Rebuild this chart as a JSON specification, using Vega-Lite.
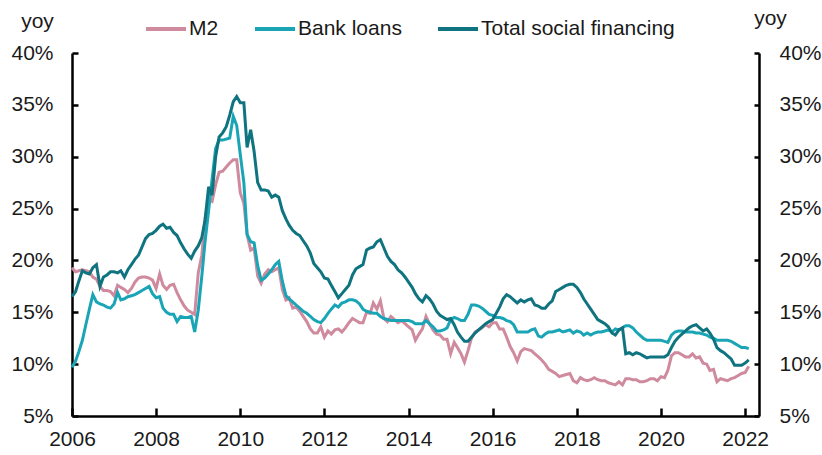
{
  "$schema": "https://vega.github.io/schema/vega-lite/v6.json",
  "width": 687,
  "height": 363,
  "autosize": "none",
  "padding": {"left": 72, "top": 53, "right": 63, "bottom": 39},
  "background": "white",
  "config": {
    "font": "Liberation Sans",
    "view": {"stroke": null},
    "axis": {
      "grid": false,
      "domainColor": "#000000",
      "domainWidth": 2.5,
      "tickColor": "#000000",
      "tickWidth": 2.5,
      "labelColor": "#1a1a1a",
      "labelFontSize": 21,
      "labelFont": "Liberation Sans",
      "titleFont": "Liberation Sans",
      "titleFontSize": 21,
      "titleFontWeight": "normal",
      "titleColor": "#1a1a1a"
    },
    "legend": {"labelFont": "Liberation Sans"}
  },
  "data": {
    "values": [
      {"date":"2006-01","M2":19.3,"Bank loans":9.7,"Total social financing":16.5},
      {"date":"2006-02","M2":18.9,"Bank loans":10.3,"Total social financing":17.0},
      {"date":"2006-03","M2":19.0,"Bank loans":11.2,"Total social financing":18.0},
      {"date":"2006-04","M2":19.1,"Bank loans":12.3,"Total social financing":19.0},
      {"date":"2006-05","M2":19.0,"Bank loans":13.8,"Total social financing":18.8},
      {"date":"2006-06","M2":18.9,"Bank loans":15.3,"Total social financing":18.7},
      {"date":"2006-07","M2":18.4,"Bank loans":16.7,"Total social financing":19.3},
      {"date":"2006-08","M2":18.2,"Bank loans":16.0,"Total social financing":19.6},
      {"date":"2006-09","M2":17.5,"Bank loans":15.8,"Total social financing":17.5},
      {"date":"2006-10","M2":17.1,"Bank loans":15.7,"Total social financing":18.4},
      {"date":"2006-11","M2":17.1,"Bank loans":15.5,"Total social financing":18.6},
      {"date":"2006-12","M2":17.0,"Bank loans":15.4,"Total social financing":18.9},
      {"date":"2007-01","M2":16.6,"Bank loans":15.8,"Total social financing":18.9},
      {"date":"2007-02","M2":17.6,"Bank loans":16.9,"Total social financing":18.8},
      {"date":"2007-03","M2":17.4,"Bank loans":16.2,"Total social financing":19.0},
      {"date":"2007-04","M2":17.2,"Bank loans":16.3,"Total social financing":18.4},
      {"date":"2007-05","M2":16.9,"Bank loans":16.5,"Total social financing":19.1},
      {"date":"2007-06","M2":17.3,"Bank loans":16.6,"Total social financing":19.6},
      {"date":"2007-07","M2":17.9,"Bank loans":16.7,"Total social financing":20.1},
      {"date":"2007-08","M2":18.3,"Bank loans":16.9,"Total social financing":20.5},
      {"date":"2007-09","M2":18.4,"Bank loans":17.1,"Total social financing":21.3},
      {"date":"2007-10","M2":18.4,"Bank loans":17.3,"Total social financing":22.1},
      {"date":"2007-11","M2":18.3,"Bank loans":17.5,"Total social financing":22.5},
      {"date":"2007-12","M2":18.1,"Bank loans":16.8,"Total social financing":22.6},
      {"date":"2008-01","M2":17.3,"Bank loans":16.4,"Total social financing":22.9},
      {"date":"2008-02","M2":18.7,"Bank loans":16.5,"Total social financing":23.3},
      {"date":"2008-03","M2":17.6,"Bank loans":15.4,"Total social financing":23.5},
      {"date":"2008-04","M2":17.2,"Bank loans":15.0,"Total social financing":23.1},
      {"date":"2008-05","M2":17.6,"Bank loans":14.8,"Total social financing":23.2},
      {"date":"2008-06","M2":17.7,"Bank loans":14.8,"Total social financing":22.7},
      {"date":"2008-07","M2":16.9,"Bank loans":14.1,"Total social financing":22.4},
      {"date":"2008-08","M2":16.2,"Bank loans":14.6,"Total social financing":21.7},
      {"date":"2008-09","M2":15.6,"Bank loans":14.5,"Total social financing":21.1},
      {"date":"2008-10","M2":15.2,"Bank loans":14.5,"Total social financing":20.6},
      {"date":"2008-11","M2":15.0,"Bank loans":14.6,"Total social financing":20.2},
      {"date":"2008-12","M2":14.8,"Bank loans":13.1,"Total social financing":20.9},
      {"date":"2009-01","M2":18.8,"Bank loans":15.2,"Total social financing":21.4},
      {"date":"2009-02","M2":20.5,"Bank loans":18.5,"Total social financing":22.2},
      {"date":"2009-03","M2":24.0,"Bank loans":21.8,"Total social financing":23.9},
      {"date":"2009-04","M2":25.9,"Bank loans":24.8,"Total social financing":27.1},
      {"date":"2009-05","M2":25.7,"Bank loans":27.8,"Total social financing":26.3},
      {"date":"2009-06","M2":27.3,"Bank loans":30.8,"Total social financing":30.0},
      {"date":"2009-07","M2":28.5,"Bank loans":31.6,"Total social financing":31.9},
      {"date":"2009-08","M2":28.6,"Bank loans":31.6,"Total social financing":32.3},
      {"date":"2009-09","M2":29.0,"Bank loans":31.7,"Total social financing":32.9},
      {"date":"2009-10","M2":29.4,"Bank loans":31.8,"Total social financing":34.0},
      {"date":"2009-11","M2":29.7,"Bank loans":33.9,"Total social financing":35.3},
      {"date":"2009-12","M2":29.7,"Bank loans":33.0,"Total social financing":35.8},
      {"date":"2010-01","M2":26.5,"Bank loans":30.2,"Total social financing":35.2},
      {"date":"2010-02","M2":25.5,"Bank loans":27.5,"Total social financing":35.2},
      {"date":"2010-03","M2":22.5,"Bank loans":22.5,"Total social financing":30.9},
      {"date":"2010-04","M2":21.0,"Bank loans":21.8,"Total social financing":32.6},
      {"date":"2010-05","M2":21.2,"Bank loans":21.7,"Total social financing":30.5},
      {"date":"2010-06","M2":18.5,"Bank loans":19.5,"Total social financing":27.5},
      {"date":"2010-07","M2":17.8,"Bank loans":18.1,"Total social financing":26.8},
      {"date":"2010-08","M2":18.7,"Bank loans":18.3,"Total social financing":26.8},
      {"date":"2010-09","M2":19.1,"Bank loans":18.7,"Total social financing":26.7},
      {"date":"2010-10","M2":18.9,"Bank loans":19.1,"Total social financing":26.1},
      {"date":"2010-11","M2":19.1,"Bank loans":19.6,"Total social financing":26.3},
      {"date":"2010-12","M2":19.3,"Bank loans":19.9,"Total social financing":26.1},
      {"date":"2011-01","M2":17.2,"Bank loans":18.0,"Total social financing":24.8},
      {"date":"2011-02","M2":16.2,"Bank loans":16.6,"Total social financing":24.0},
      {"date":"2011-03","M2":16.4,"Bank loans":16.3,"Total social financing":23.4},
      {"date":"2011-04","M2":15.4,"Bank loans":16.0,"Total social financing":22.9},
      {"date":"2011-05","M2":15.5,"Bank loans":15.7,"Total social financing":22.6},
      {"date":"2011-06","M2":15.1,"Bank loans":15.4,"Total social financing":22.4},
      {"date":"2011-07","M2":14.6,"Bank loans":15.1,"Total social financing":21.9},
      {"date":"2011-08","M2":14.1,"Bank loans":14.9,"Total social financing":21.4},
      {"date":"2011-09","M2":13.4,"Bank loans":14.6,"Total social financing":20.7},
      {"date":"2011-10","M2":13.0,"Bank loans":14.3,"Total social financing":19.7},
      {"date":"2011-11","M2":13.0,"Bank loans":14.1,"Total social financing":19.3},
      {"date":"2011-12","M2":13.6,"Bank loans":14.0,"Total social financing":18.9},
      {"date":"2012-01","M2":12.6,"Bank loans":14.4,"Total social financing":18.3},
      {"date":"2012-02","M2":13.2,"Bank loans":14.9,"Total social financing":18.2},
      {"date":"2012-03","M2":12.9,"Bank loans":15.3,"Total social financing":17.6},
      {"date":"2012-04","M2":13.3,"Bank loans":15.7,"Total social financing":17.0},
      {"date":"2012-05","M2":13.4,"Bank loans":15.5,"Total social financing":16.4},
      {"date":"2012-06","M2":13.1,"Bank loans":15.9,"Total social financing":16.8},
      {"date":"2012-07","M2":13.5,"Bank loans":16.0,"Total social financing":17.2},
      {"date":"2012-08","M2":14.0,"Bank loans":16.2,"Total social financing":17.6},
      {"date":"2012-09","M2":14.4,"Bank loans":16.2,"Total social financing":18.6},
      {"date":"2012-10","M2":14.2,"Bank loans":16.1,"Total social financing":19.2},
      {"date":"2012-11","M2":14.0,"Bank loans":15.8,"Total social financing":19.4},
      {"date":"2012-12","M2":14.0,"Bank loans":15.3,"Total social financing":19.6},
      {"date":"2013-01","M2":15.0,"Bank loans":15.1,"Total social financing":21.0},
      {"date":"2013-02","M2":14.9,"Bank loans":15.0,"Total social financing":21.2},
      {"date":"2013-03","M2":15.9,"Bank loans":14.9,"Total social financing":21.3},
      {"date":"2013-04","M2":15.3,"Bank loans":14.9,"Total social financing":21.8},
      {"date":"2013-05","M2":16.1,"Bank loans":14.6,"Total social financing":22.0},
      {"date":"2013-06","M2":14.4,"Bank loans":14.4,"Total social financing":21.2},
      {"date":"2013-07","M2":14.1,"Bank loans":14.3,"Total social financing":20.4},
      {"date":"2013-08","M2":14.6,"Bank loans":14.2,"Total social financing":19.9},
      {"date":"2013-09","M2":14.3,"Bank loans":14.2,"Total social financing":19.6},
      {"date":"2013-10","M2":14.0,"Bank loans":14.2,"Total social financing":19.1},
      {"date":"2013-11","M2":14.2,"Bank loans":14.2,"Total social financing":18.8},
      {"date":"2013-12","M2":13.9,"Bank loans":14.2,"Total social financing":18.4},
      {"date":"2014-01","M2":13.6,"Bank loans":14.2,"Total social financing":17.9},
      {"date":"2014-02","M2":13.3,"Bank loans":14.1,"Total social financing":17.4},
      {"date":"2014-03","M2":12.3,"Bank loans":13.9,"Total social financing":16.8},
      {"date":"2014-04","M2":12.9,"Bank loans":13.9,"Total social financing":16.3},
      {"date":"2014-05","M2":13.4,"Bank loans":13.9,"Total social financing":16.0},
      {"date":"2014-06","M2":14.6,"Bank loans":14.2,"Total social financing":16.6},
      {"date":"2014-07","M2":13.9,"Bank loans":13.9,"Total social financing":16.3},
      {"date":"2014-08","M2":13.3,"Bank loans":13.6,"Total social financing":15.8},
      {"date":"2014-09","M2":12.9,"Bank loans":13.2,"Total social financing":15.1},
      {"date":"2014-10","M2":12.8,"Bank loans":13.2,"Total social financing":14.7},
      {"date":"2014-11","M2":12.4,"Bank loans":13.3,"Total social financing":14.5},
      {"date":"2014-12","M2":12.4,"Bank loans":13.5,"Total social financing":14.3},
      {"date":"2015-01","M2":11.0,"Bank loans":14.3,"Total social financing":14.4},
      {"date":"2015-02","M2":12.1,"Bank loans":14.5,"Total social financing":13.8},
      {"date":"2015-03","M2":11.6,"Bank loans":14.4,"Total social financing":13.1},
      {"date":"2015-04","M2":11.0,"Bank loans":14.2,"Total social financing":12.6},
      {"date":"2015-05","M2":10.2,"Bank loans":14.2,"Total social financing":12.2},
      {"date":"2015-06","M2":11.3,"Bank loans":14.8,"Total social financing":12.2},
      {"date":"2015-07","M2":12.5,"Bank loans":15.7,"Total social financing":12.6},
      {"date":"2015-08","M2":13.1,"Bank loans":15.7,"Total social financing":13.0},
      {"date":"2015-09","M2":13.3,"Bank loans":15.6,"Total social financing":13.3},
      {"date":"2015-10","M2":13.5,"Bank loans":15.4,"Total social financing":13.6},
      {"date":"2015-11","M2":13.8,"Bank loans":15.1,"Total social financing":13.9},
      {"date":"2015-12","M2":13.6,"Bank loans":14.8,"Total social financing":14.1},
      {"date":"2016-01","M2":14.0,"Bank loans":14.7,"Total social financing":14.3},
      {"date":"2016-02","M2":14.0,"Bank loans":14.5,"Total social financing":14.9},
      {"date":"2016-03","M2":13.4,"Bank loans":14.5,"Total social financing":15.5},
      {"date":"2016-04","M2":13.4,"Bank loans":14.4,"Total social financing":16.3},
      {"date":"2016-05","M2":12.6,"Bank loans":14.2,"Total social financing":16.7},
      {"date":"2016-06","M2":11.7,"Bank loans":14.1,"Total social financing":16.5},
      {"date":"2016-07","M2":11.1,"Bank loans":13.8,"Total social financing":16.2},
      {"date":"2016-08","M2":10.3,"Bank loans":13.1,"Total social financing":15.9},
      {"date":"2016-09","M2":11.2,"Bank loans":13.1,"Total social financing":16.2},
      {"date":"2016-10","M2":11.5,"Bank loans":13.1,"Total social financing":16.0},
      {"date":"2016-11","M2":11.4,"Bank loans":13.1,"Total social financing":16.2},
      {"date":"2016-12","M2":11.3,"Bank loans":13.3,"Total social financing":16.3},
      {"date":"2017-01","M2":11.0,"Bank loans":13.4,"Total social financing":15.7},
      {"date":"2017-02","M2":10.7,"Bank loans":12.7,"Total social financing":15.6},
      {"date":"2017-03","M2":10.4,"Bank loans":12.6,"Total social financing":15.4},
      {"date":"2017-04","M2":10.0,"Bank loans":12.9,"Total social financing":15.4},
      {"date":"2017-05","M2":9.5,"Bank loans":13.1,"Total social financing":15.8},
      {"date":"2017-06","M2":9.3,"Bank loans":13.1,"Total social financing":16.1},
      {"date":"2017-07","M2":9.1,"Bank loans":13.2,"Total social financing":17.0},
      {"date":"2017-08","M2":8.8,"Bank loans":13.3,"Total social financing":17.2},
      {"date":"2017-09","M2":8.9,"Bank loans":13.1,"Total social financing":17.4},
      {"date":"2017-10","M2":9.0,"Bank loans":13.2,"Total social financing":17.6},
      {"date":"2017-11","M2":9.1,"Bank loans":13.3,"Total social financing":17.7},
      {"date":"2017-12","M2":8.4,"Bank loans":13.0,"Total social financing":17.7},
      {"date":"2018-01","M2":8.2,"Bank loans":13.2,"Total social financing":17.4},
      {"date":"2018-02","M2":8.7,"Bank loans":13.1,"Total social financing":16.9},
      {"date":"2018-03","M2":8.5,"Bank loans":12.8,"Total social financing":16.3},
      {"date":"2018-04","M2":8.4,"Bank loans":13.0,"Total social financing":15.8},
      {"date":"2018-05","M2":8.5,"Bank loans":12.8,"Total social financing":15.3},
      {"date":"2018-06","M2":8.7,"Bank loans":13.0,"Total social financing":14.8},
      {"date":"2018-07","M2":8.5,"Bank loans":13.1,"Total social financing":14.3},
      {"date":"2018-08","M2":8.4,"Bank loans":13.1,"Total social financing":14.1},
      {"date":"2018-09","M2":8.4,"Bank loans":13.2,"Total social financing":13.9},
      {"date":"2018-10","M2":8.2,"Bank loans":13.3,"Total social financing":13.6},
      {"date":"2018-11","M2":8.1,"Bank loans":13.1,"Total social financing":13.0},
      {"date":"2018-12","M2":8.0,"Bank loans":13.4,"Total social financing":12.8},
      {"date":"2019-01","M2":8.3,"Bank loans":13.3,"Total social financing":13.3},
      {"date":"2019-02","M2":8.0,"Bank loans":13.5,"Total social financing":13.5},
      {"date":"2019-03","M2":8.6,"Bank loans":13.7,"Total social financing":11.0},
      {"date":"2019-04","M2":8.6,"Bank loans":13.7,"Total social financing":11.1},
      {"date":"2019-05","M2":8.5,"Bank loans":13.5,"Total social financing":10.9},
      {"date":"2019-06","M2":8.5,"Bank loans":13.1,"Total social financing":11.1},
      {"date":"2019-07","M2":8.3,"Bank loans":12.8,"Total social financing":11.0},
      {"date":"2019-08","M2":8.3,"Bank loans":12.5,"Total social financing":10.8},
      {"date":"2019-09","M2":8.4,"Bank loans":12.3,"Total social financing":10.6},
      {"date":"2019-10","M2":8.6,"Bank loans":12.3,"Total social financing":10.7},
      {"date":"2019-11","M2":8.6,"Bank loans":12.3,"Total social financing":10.7},
      {"date":"2019-12","M2":8.4,"Bank loans":12.3,"Total social financing":10.7},
      {"date":"2020-01","M2":8.8,"Bank loans":12.3,"Total social financing":10.7},
      {"date":"2020-02","M2":8.7,"Bank loans":12.2,"Total social financing":10.7},
      {"date":"2020-03","M2":9.4,"Bank loans":12.1,"Total social financing":10.9},
      {"date":"2020-04","M2":10.8,"Bank loans":12.8,"Total social financing":11.6},
      {"date":"2020-05","M2":11.1,"Bank loans":13.1,"Total social financing":12.2},
      {"date":"2020-06","M2":11.1,"Bank loans":13.2,"Total social financing":12.6},
      {"date":"2020-07","M2":10.9,"Bank loans":13.2,"Total social financing":12.9},
      {"date":"2020-08","M2":10.7,"Bank loans":13.1,"Total social financing":13.2},
      {"date":"2020-09","M2":10.7,"Bank loans":13.1,"Total social financing":13.5},
      {"date":"2020-10","M2":11.0,"Bank loans":13.1,"Total social financing":13.7},
      {"date":"2020-11","M2":10.6,"Bank loans":13.0,"Total social financing":13.8},
      {"date":"2020-12","M2":10.7,"Bank loans":13.0,"Total social financing":13.5},
      {"date":"2021-01","M2":10.1,"Bank loans":12.9,"Total social financing":13.2},
      {"date":"2021-02","M2":10.0,"Bank loans":12.8,"Total social financing":13.4},
      {"date":"2021-03","M2":9.4,"Bank loans":12.6,"Total social financing":13.0},
      {"date":"2021-04","M2":9.5,"Bank loans":12.5,"Total social financing":12.4},
      {"date":"2021-05","M2":8.3,"Bank loans":12.3,"Total social financing":11.6},
      {"date":"2021-06","M2":8.6,"Bank loans":12.3,"Total social financing":11.3},
      {"date":"2021-07","M2":8.5,"Bank loans":12.3,"Total social financing":11.1},
      {"date":"2021-08","M2":8.4,"Bank loans":12.3,"Total social financing":10.8},
      {"date":"2021-09","M2":8.6,"Bank loans":12.2,"Total social financing":10.5},
      {"date":"2021-10","M2":8.7,"Bank loans":12.0,"Total social financing":9.9},
      {"date":"2021-11","M2":8.9,"Bank loans":11.8,"Total social financing":9.9},
      {"date":"2021-12","M2":9.1,"Bank loans":11.6,"Total social financing":9.9},
      {"date":"2022-01","M2":9.2,"Bank loans":11.6,"Total social financing":10.1},
      {"date":"2022-02","M2":9.8,"Bank loans":11.5,"Total social financing":10.4}
    ]
  },
  "transform": [
    {"fold": ["M2", "Bank loans", "Total social financing"], "as": ["series", "value"]}
  ],
  "encoding": {
    "x": {
      "field": "date",
      "type": "temporal",
      "scale": {
        "type": "utc",
        "domain": [
          {"year": 2006, "month": 1, "date": 1, "utc": true},
          {"year": 2022, "month": 5, "date": 1, "utc": true}
        ]
      },
      "axis": {
        "title": null,
        "values": [
          {"year": 2006, "utc": true}, {"year": 2008, "utc": true}, {"year": 2010, "utc": true},
          {"year": 2012, "utc": true}, {"year": 2014, "utc": true}, {"year": 2016, "utc": true},
          {"year": 2018, "utc": true}, {"year": 2020, "utc": true}, {"year": 2022, "utc": true}
        ],
        "format": "%Y",
        "formatType": "utc",
        "tickSize": -8,
        "labelPadding": 20,
        "labelFlush": false,
        "labelOverlap": false
      }
    }
  },
  "layer": [
    {
      "mark": {"type": "line", "strokeWidth": 3},
      "encoding": {
        "y": {
          "field": "value",
          "type": "quantitative",
          "scale": {"domain": [5, 40], "nice": false, "zero": false},
          "axis": {
            "orient": "left",
            "values": [5, 10, 15, 20, 25, 30, 35, 40],
            "labelExpr": "datum.value + '%'",
            "tickSize": -6,
            "labelPadding": 25,
            "title": "yoy",
            "titleAngle": 0,
            "titleX": -35,
            "titleY": -32,
            "titleAlign": "center",
            "titleBaseline": "middle"
          }
        },
        "color": {
          "field": "series",
          "type": "nominal",
          "scale": {
            "domain": ["M2", "Bank loans", "Total social financing"],
            "range": ["#cf8a9e", "#1aa5b6", "#0f7480"]
          },
          "legend": {
            "title": null,
            "orient": "none",
            "direction": "horizontal",
            "legendX": 72,
            "legendY": -46,
            "symbolType": "stroke",
            "symbolSize": 1600,
            "symbolStrokeWidth": 4,
            "labelFontSize": 21,
            "labelColor": "#1a1a1a",
            "labelOffset": 1,
            "labelLimit": 0,
            "columnPadding": 28
          }
        }
      }
    },
    {
      "mark": {"type": "point", "opacity": 0},
      "encoding": {
        "y": {
          "field": "value",
          "type": "quantitative",
          "scale": {"domain": [5, 40], "nice": false, "zero": false},
          "axis": {
            "orient": "right",
            "values": [5, 10, 15, 20, 25, 30, 35, 40],
            "labelExpr": "datum.value + '%'",
            "tickSize": -5,
            "labelPadding": 25,
            "title": "yoy",
            "titleAngle": 0,
            "titleX": 11,
            "titleY": -35,
            "titleAlign": "center",
            "titleBaseline": "middle"
          }
        }
      }
    }
  ],
  "resolve": {"axis": {"y": "independent"}}
}
